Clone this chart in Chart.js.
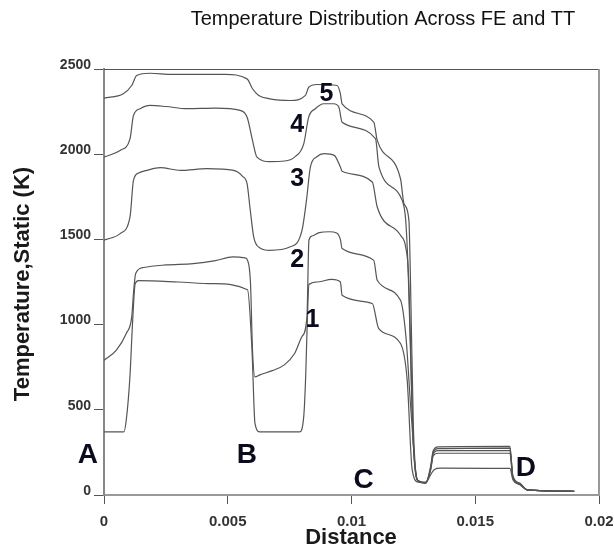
<!DOCTYPE html>
<html>
<head>
<meta charset="utf-8">
<script src="https://cdn.jsdelivr.net/npm/chart.js@4.4.1/dist/chart.umd.min.js"></script>
<style>
  body { margin: 0; background: #fff; }
  canvas { display: block; }
</style>
</head>
<body>
<canvas id="chart" width="614" height="550"></canvas>
<script>
let chartTitle = 'Temperature Distribution Across FE and TT';
let xTitle = 'Distance';
let yTitle = 'Temperature,Static (K)';

let xTicks = [0, 0.005, 0.01, 0.015, 0.02];
let xTickLabels = ['0', '0.005', '0.01', '0.015', '0.02'];
let yTicks = [0, 500, 1000, 1500, 2000, 2500];
let yTickLabels = ['0', '500', '1000', '1500', '2000', '2500'];

// curve 1 (lowest)
let dist1 = [0, 0.0008, 0.0009, 0.00105, 0.00115, 0.00126, 0.0014, 0.003, 0.0044, 0.0058, 0.00598, 0.0061, 0.0063, 0.0079, 0.00807, 0.00815, 0.0082, 0.00828, 0.0086, 0.0092, 0.00955, 0.00962, 0.01084, 0.0111, 0.01198, 0.01225, 0.01245, 0.0127, 0.013, 0.0132, 0.01335, 0.0136, 0.0164, 0.01652, 0.0168, 0.0171, 0.019];
let temp1 = [370, 370, 440, 700, 1000, 1240, 1258, 1250, 1240, 1205, 850, 420, 370, 370, 460, 700, 950, 1235, 1250, 1265, 1250, 1172, 1124, 977, 889, 674, 150, 75, 72, 120, 150, 158, 156, 90, 60, 30, 22];

// curve 2
let dist2 = [0, 0.0005, 0.0009, 0.00112, 0.0012, 0.00128, 0.0016, 0.0025, 0.0036, 0.0045, 0.0052, 0.0057, 0.0058, 0.00592, 0.006, 0.0061, 0.0063, 0.0068, 0.0073, 0.0077, 0.008, 0.0082, 0.00828, 0.0084, 0.0087, 0.0091, 0.0094, 0.00955, 0.00962, 0.0109, 0.01104, 0.01198, 0.0122, 0.0124, 0.01265, 0.013, 0.0132, 0.0133, 0.0135, 0.0164, 0.01652, 0.0168, 0.0171, 0.019];
let temp2 = [790, 850, 948, 1045, 1200, 1300, 1335, 1350, 1358, 1375, 1397, 1392, 1377, 1241, 850, 693, 705, 730, 765, 830, 930, 1045, 1495, 1520, 1540, 1545, 1538, 1500, 1446, 1377, 1260, 1143, 928, 500, 90, 75, 150, 230, 245, 245, 100, 65, 30, 22];

// curve 3
let dist3 = [0, 0.00065, 0.00105, 0.00119, 0.0014, 0.00173, 0.00227, 0.00308, 0.00416, 0.00524, 0.0056, 0.00578, 0.00591, 0.00605, 0.0063, 0.0067, 0.0075, 0.008, 0.00818, 0.00834, 0.0086, 0.0089, 0.0093, 0.00955, 0.00962, 0.01084, 0.01104, 0.01198, 0.01219, 0.0123, 0.0125, 0.0127, 0.013, 0.0132, 0.0133, 0.0135, 0.0164, 0.01652, 0.0168, 0.0171, 0.019];
let temp3 = [1495, 1534, 1631, 1846, 1890, 1905, 1921, 1905, 1915, 1905, 1870, 1827, 1671, 1514, 1450, 1436, 1455, 1553, 1729, 1925, 1985, 2003, 1993, 1925, 1900, 1837, 1690, 1524, 1455, 1300, 300, 80, 70, 150, 240, 260, 260, 105, 65, 30, 22];

// curve 4
let dist4 = [0, 0.00065, 0.00105, 0.00119, 0.00146, 0.00186, 0.0025, 0.00335, 0.0045, 0.0055, 0.00578, 0.006, 0.00618, 0.0067, 0.0073, 0.0077, 0.00807, 0.00827, 0.00854, 0.00888, 0.00928, 0.00949, 0.00962, 0.01097, 0.01111, 0.01205, 0.01219, 0.01228, 0.0125, 0.0127, 0.013, 0.0132, 0.0133, 0.0135, 0.0164, 0.01652, 0.0168, 0.0171, 0.019];
let temp4 = [1983, 2022, 2090, 2227, 2267, 2286, 2280, 2267, 2270, 2257, 2218, 2081, 1983, 1957, 1960, 1983, 2061, 2218, 2267, 2296, 2296, 2276, 2188, 2091, 1924, 1729, 1612, 1350, 300, 80, 70, 160, 250, 272, 275, 110, 65, 30, 22];

// curve 5 (highest)
let dist5 = [0, 0.00078, 0.00112, 0.00132, 0.00186, 0.00274, 0.0049, 0.00578, 0.006, 0.00625, 0.0067, 0.00753, 0.00814, 0.00827, 0.0086, 0.00942, 0.00955, 0.00962, 0.0109, 0.01104, 0.01198, 0.01212, 0.01232, 0.01238, 0.0125, 0.0127, 0.013, 0.0132, 0.0133, 0.0135, 0.0164, 0.01652, 0.0168, 0.0171, 0.019];
let temp5 = [2329, 2355, 2403, 2462, 2475, 2468, 2468, 2442, 2384, 2345, 2325, 2315, 2345, 2393, 2409, 2403, 2355, 2296, 2188, 2081, 1856, 1710, 1612, 1280, 400, 80, 70, 170, 260, 283, 285, 110, 70, 30, 22];

// text marks on the plot, anchored in data units
let noteText = ['A', 'B', 'C', 'D', '1', '2', '3', '4', '5'];
let noteX = [-0.00065, 0.00577, 0.01049, 0.01704, 0.00842, 0.00781, 0.00781, 0.00781, 0.00899];
let noteY = [234, 234, 88, 158, 1026, 1377, 1852, 2169, 2351];

let pts = (xs, ys) => xs.map((x, i) => ({ x: x, y: ys[i] }));
let series = [[dist1, temp1], [dist2, temp2], [dist3, temp3], [dist4, temp4], [dist5, temp5]];

let FONT = '"Liberation Sans", Arial, sans-serif';

let textPlugin = {
    id: 'texts',
    afterDraw(chart) {
        let ctx = chart.ctx;
        let area = chart.chartArea;
        let sx = chart.scales.x;
        let sy = chart.scales.y;
        ctx.save();

        // frame top and right
        ctx.strokeStyle = '#555';
        ctx.lineWidth = 1;
        ctx.beginPath();
        ctx.moveTo(area.left, area.top + 0.5);
        ctx.lineTo(area.right, area.top + 0.5);
        ctx.stroke();
        ctx.strokeStyle = '#999';
        ctx.lineWidth = 2;
        ctx.beginPath();
        ctx.moveTo(area.right, area.top);
        ctx.lineTo(area.right, area.bottom);
        ctx.stroke();

        ctx.fillStyle = '#111';
        ctx.textAlign = 'center';
        ctx.textBaseline = 'middle';
        ctx.font = '20px ' + FONT;
        ctx.fillText(chartTitle, 383, 19);

        ctx.fillStyle = '#1a1a1a';
        ctx.font = 'bold 22px ' + FONT;
        ctx.fillText(xTitle, 351, 538);

        ctx.save();
        ctx.translate(23, 284);
        ctx.rotate(-Math.PI / 2);
        ctx.fillText(yTitle, 0, 0);
        ctx.restore();

        ctx.fillStyle = '#0b0b1e';
        noteText.forEach((t, i) => {
            ctx.font = (/[A-Z]/.test(t) ? 'bold 28px ' : 'bold 25px ') + FONT;
            ctx.fillText(t, sx.getPixelForValue(noteX[i]), sy.getPixelForValue(noteY[i]));
        });
        ctx.restore();
    }
};

new Chart(document.getElementById('chart'), {
    type: 'line',
    data: {
        datasets: series.map(s => ({
            data: pts(s[0], s[1]),
            borderColor: '#555',
            borderWidth: 1.2,
            pointRadius: 0,
            fill: false,
            cubicInterpolationMode: 'monotone'
        }))
    },
    options: {
        responsive: false,
        animation: false,
        layout: { padding: { top: 69, right: 15, left: 0, bottom: 0 } },
        plugins: {
            legend: { display: false },
            title: { display: false },
            tooltip: { enabled: false }
        },
        scales: {
            x: {
                type: 'linear',
                min: 0,
                max: 0.02,
                afterFit: s => { s.height = 55; s.paddingLeft = 0; s.paddingRight = 0; },
                afterBuildTicks: s => { s.ticks = xTicks.map(v => ({ value: v })); },
                ticks: {
                    callback: (v, i) => xTickLabels[i],
                    color: '#333',
                    font: { family: FONT, size: 15, weight: 'bold' },
                    padding: 9,
                    maxRotation: 0
                },
                grid: { drawOnChartArea: false, drawTicks: true, tickLength: 9, color: '#555' },
                border: { display: true, color: '#999', width: 2 }
            },
            y: {
                type: 'linear',
                min: 0,
                max: 2500,
                afterFit: s => { s.width = 104; s.paddingTop = 0; s.paddingBottom = 0; },
                afterBuildTicks: s => { s.ticks = yTicks.map(v => ({ value: v })); },
                ticks: {
                    callback: (v, i) => yTickLabels[i],
                    color: '#333',
                    font: { family: FONT, size: 14, weight: 'bold' },
                    padding: 3,
                    labelOffset: -4
                },
                grid: { drawOnChartArea: false, drawTicks: true, tickLength: 10, color: '#555' },
                border: { display: true, color: '#888', width: 2 }
            }
        }
    },
    plugins: [textPlugin]
});
</script>
</body>
</html>
